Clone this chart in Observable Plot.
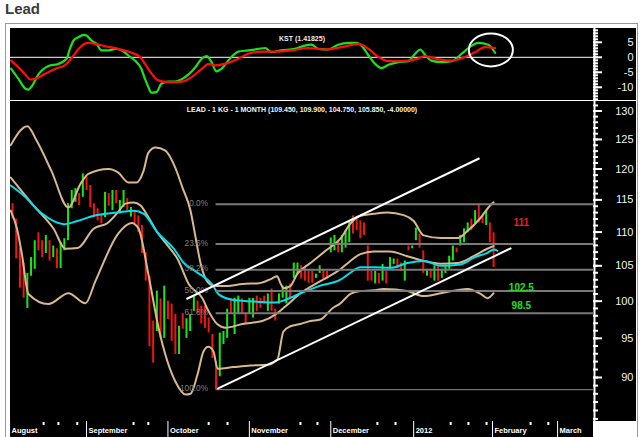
<!DOCTYPE html>
<html><head><meta charset="utf-8">
<script src="https://cdn.jsdelivr.net/npm/d3@7"></script>
<script src="https://cdn.jsdelivr.net/npm/@observablehq/plot@0.6"></script>
<style>
html,body{margin:0;padding:0;background:#fff;width:642px;height:437px;overflow:hidden;position:relative;font-family:"Liberation Sans",Arial,sans-serif}
.abs{position:absolute}
#title{left:5px;top:0px;font-family:"Liberation Sans",Arial,sans-serif;font-weight:bold;font-size:15px;line-height:17px;color:#3a3a3a}
#frame{left:5px;top:23px;width:631px;height:440px;border:1px solid #999}
#bg{left:10px;top:28px;width:626px;height:393px;background:#000}
#sep{left:10px;top:100px;width:626px;height:1px;background:#fff}
svg{display:block}
</style></head>
<body>
<div id="title" class="abs">Lead</div>
<div id="frame" class="abs"></div>
<div id="bg" class="abs"></div>
<div id="kst" class="abs" style="left:10px;top:28px"></div>
<div id="kstAxis" class="abs" style="left:593px;top:28px"></div>
<div id="main" class="abs" style="left:10px;top:100px"></div>
<div id="mainAxis" class="abs" style="left:593px;top:100px"></div>
<div id="dateAxis" class="abs" style="left:10px;top:421px"></div>
<div id="sep" class="abs"></div>
<script>
// ---------- DATA ----------
// daily bars (trading-day index 0..130)
const barHigh = [114.4,112.0,107.6,105.4,103.9,106.2,108.7,109.9,108.7,109.5,
108.7,107.9,107.5,108.4,109.0,114.4,116.5,116.8,116.0,119.2,
118.7,117.3,114.4,113.6,112.8,116.2,116.0,116.5,116.5,114.9,
116.5,115.2,113.8,113.3,112.5,111.0,106.9,103.5,97.3,101.4,
100.3,102.1,100.0,99.6,98.2,96.6,98.3,97.6,98.2,100.7,
100.0,99.3,99.3,97.7,95.5,92.0,95.7,95.9,98.9,100.3,
100.4,100.7,100.3,98.2,100.4,100.4,100.7,100.4,100.7,101.0,
101.7,98.9,101.0,102.1,102.1,102.4,105.4,105.4,105.0,104.6,
104.2,104.2,103.8,105.0,104.5,104.2,109.1,109.5,108.7,109.5,
110.2,111.7,112.5,112.0,111.7,111.4,107.9,104.2,104.2,103.9,
105.2,104.2,106.2,106.0,106.0,105.4,105.7,107.9,107.9,110.6,
109.7,107.2,104.5,104.5,105.0,105.0,104.5,105.0,106.4,107.9,
107.6,109.5,110.5,111.4,112.0,113.3,114.3,112.5,113.3,111.4,
109.9];
const barLow = [112.0,106.0,101.8,100.4,99.0,103.5,104.5,107.2,106.2,106.8,
105.7,106.2,104.6,104.6,107.2,108.7,113.6,114.6,114.1,115.4,
116.5,113.8,112.2,111.7,111.3,112.2,114.0,113.3,114.4,112.8,
113.8,113.3,112.3,111.3,109.9,106.8,102.8,93.9,91.8,95.9,
95.0,95.0,97.5,94.6,92.9,92.9,96.2,95.0,95.9,98.6,
98.3,96.9,96.3,95.7,92.4,88.5,90.1,94.2,95.0,98.3,
95.5,98.3,98.3,96.9,98.2,97.7,98.6,99.0,99.6,98.6,
98.6,97.3,99.6,100.4,99.6,100.4,103.2,103.8,103.1,102.8,
102.5,102.5,103.2,103.9,103.1,103.1,106.9,107.2,106.9,106.9,
107.6,108.4,109.7,110.2,109.0,109.5,102.8,102.8,102.4,102.4,
102.8,102.4,104.5,105.2,104.6,104.2,102.8,107.2,107.5,108.7,
107.6,103.9,103.5,103.2,102.8,102.8,103.2,103.9,104.5,105.7,
106.9,107.9,108.4,109.9,110.2,111.3,111.4,111.3,111.0,108.4,
104.75];
// 1 = up day (green), 0 = down day (red)
const barUp = [0,0,0,0,1,1,1,0,0,1, 0,1,0,1,1,1,1,1,0,1,
0,0,0,0,0,1,0,1,0,1, 1,0,1,0,0,0,0,0,0,1,
0,1,0,0,0,1,0,1,1,1, 0,0,0,0,0,0,1,1,1,0,
1,1,0,0,1,1,0,0,0,1, 0,0,1,1,1,0,1,1,0,0,
0,0,1,1,0,0,1,1,0,1, 1,1,0,0,0,0,0,0,1,0,
1,0,1,1,0,0,1,0,1,1, 0,0,1,0,1,0,1,1,1,1,
0,1,1,1,0,1,0,0,1,0, 0];

// Bollinger bands and moving average: [day, price]
const bbUpper = [[-0.5,124.0],[4.0,127.3],[6.5,124.8],[10.5,119.7],[15.1,113.8],[18.4,117.6],[20.5,119.2],[25.9,120.0],[28.6,119.4],[31.3,117.8],[33.5,117.8],[35.4,119.7],[36.7,122.7],[38.6,123.6],[41.3,123.1],[44.0,120.2],[45.9,117.0],[48.1,113.3],[49.5,109.1],[50.8,105.4],[52.2,103.1],[54.0,102.2],[55.3,102.1],[58.0,102.1],[62.1,102.4],[66.6,102.5],[70.2,103.2],[71.5,103.5],[72.4,102.5],[73.3,101.8],[75.1,102.1],[76.9,103.8],[80.5,105.4],[84.6,107.2],[88.6,109.0],[91.3,111.3],[94.0,112.5],[97.6,112.8],[101.3,113.0],[105.7,112.6],[108.4,111.7],[111.1,109.5],[115.7,109.1],[120.3,109.1],[123.0,110.2],[126.5,112.2],[129.2,114.2],[130.0,114.6]];
const bbMiddle = [[-0.5,118.6],[5.7,114.1],[11.1,110.5],[14.3,107.5],[17.6,107.6],[21.9,110.5],[25.7,111.4],[28.4,113.0],[30.5,114.4],[32.7,114.6],[34.6,114.1],[36.5,112.5],[39.2,109.9],[41.9,108.0],[44.6,106.0],[47.6,102.4],[51.3,100.4],[53.0,98.6],[55.3,96.9],[57.6,96.4],[62.1,96.9],[67.5,97.3],[71.1,98.2],[73.8,99.3],[77.8,101.1],[83.2,102.8],[88.6,104.5],[91.3,105.7],[94.0,106.7],[97.6,107.1],[102.0,107.1],[106.7,106.4],[111.1,105.7],[115.7,105.3],[120.2,105.4],[124.6,106.4],[128.3,107.5],[130.0,107.9]];
const bbLower = [[-0.5,113.3],[1.2,110.5],[2.5,106.8],[4.3,101.0],[9.7,99.6],[15.1,101.1],[19.7,99.7],[22.4,102.8],[28.6,109.8],[32.2,111.4],[34.0,110.6],[36.7,103.8],[39.5,96.3],[44.0,89.5],[46.8,87.9],[48.1,88.0],[50.0,90.4],[51.6,93.3],[52.9,93.9],[54.3,93.3],[55.4,91.1],[59.7,91.3],[64.3,91.5],[68.9,91.6],[71.6,92.3],[73.2,95.9],[75.1,96.6],[77.8,96.9],[80.5,97.3],[83.2,97.5],[86.4,99.0],[88.6,99.7],[91.3,101.0],[94.0,101.4],[97.6,101.5],[100.3,101.7],[106.7,101.4],[111.1,100.7],[115.7,101.1],[123.0,101.7],[126.5,101.0],[128.4,100.4],[130.0,101.1]];
const movingAvg = [[-0.5,117.3],[3.0,115.7],[7.6,113.0],[13.9,111.2],[17.5,111.7],[22.0,112.5],[28.3,113.0],[32.8,113.3],[35.5,112.8],[39.1,110.0],[43.6,107.5],[46.3,105.4],[49.5,104.2],[54.0,102.3],[55.8,100.9],[59.4,100.2],[66.6,99.9],[71.1,99.8],[73.8,100.2],[78.3,101.2],[82.8,102.1],[88.6,103.0],[91.3,104.0],[94.0,104.8],[97.6,104.8],[102.2,104.7],[106.7,105.4],[111.2,105.7],[115.7,105.0],[121.1,105.2],[124.7,106.2],[128.3,106.9],[130.1,107.4],[131.0,107.2]];

// KST oscillator and its signal line: [day, value]
const kstLine = [[-0.4,-3.8],[1.6,-7.2],[3.5,-10.5],[4.3,-10.8],[5.1,-9.8],[7.1,-5.5],[7.9,-4.4],[9.7,-2.9],[12.4,-2.2],[14.6,-0.5],[15.5,2.8],[16.5,5.6],[17.8,6.7],[19.2,7.5],[20.0,7.3],[21.3,5.6],[22.7,4.5],[24.0,2.3],[25.9,2.3],[27.8,2.8],[29.5,2.3],[31.3,0.6],[33.1,-1.1],[34.8,-3.8],[35.8,-7.2],[36.7,-9.9],[37.5,-11.8],[38.9,-11.6],[40.2,-8.8],[42.1,-8.1],[43.9,-8.1],[45.6,-7.4],[47.5,-5.8],[49.4,-3.3],[51.1,-0.5],[52.4,0.4],[53.8,-1.6],[55.1,-4.7],[56.5,-3.8],[58.3,-1.1],[61.0,1.9],[63.7,2.3],[66.5,2.8],[68.3,3.1],[69.9,1.7],[72.6,2.3],[76.3,2.8],[79.0,3.9],[80.8,4.2],[82.6,2.8],[85.3,2.6],[88.0,4.2],[90.8,4.8],[92.9,4.8],[94.3,3.9],[96.2,0.6],[98.0,-2.2],[99.7,-3.6],[101.6,-2.5],[104.3,-1.6],[107.0,-1.3],[108.8,1.2],[110.2,2.6],[111.5,0.8],[113.2,-1.1],[116.0,-1.6],[118.7,-1.3],[121.4,1.2],[124.1,3.9],[125.9,4.8],[128.6,4.2],[130.4,1.5]];
const kstSignal = [[-0.4,-1.1],[1.6,-3.3],[3.5,-5.8],[4.8,-7.4],[6.1,-7.2],[8.8,-5.5],[11.6,-3.8],[14.3,-2.5],[16.5,0.6],[18.3,3.4],[20.5,4.8],[22.3,4.5],[25.0,3.7],[28.6,2.8],[32.2,1.5],[34.5,0.1],[35.8,-2.2],[37.6,-5.5],[39.4,-7.7],[42.1,-8.3],[45.8,-8.1],[48.4,-6.6],[51.2,-3.8],[53.0,-2.2],[54.7,-2.7],[57.4,-2.2],[61.0,-0.5],[63.7,1.2],[67.3,1.9],[71.0,1.9],[75.5,2.3],[79.9,3.1],[84.5,2.6],[89.0,3.4],[93.5,4.5],[96.2,2.8],[98.9,0.1],[101.6,-1.3],[105.2,-1.3],[108.8,-0.7],[111.5,0.4],[115.2,-0.7],[118.7,-1.1],[122.3,0.1],[125.0,1.7],[127.7,3.4],[130.4,3.1]];
const kstLabel = "KST (1.41825)";
const kstHighlight = {day: 129.4, value: 2.3};

// Fibonacci retracement from the October low to the January high
const fibHigh = 114.3, fibLow = 88.5, fibStartDay = 55;
const fibRatios = [0, 23.6, 38.2, 50, 61.8, 100];

// Trend channel: [startDay, startPrice, endDay, endPrice]
const channelLines = [[47.0, 100.3, 126.2, 121.8], [55.3, 88.6, 134.8, 107.6]];

// Target annotations
const targetLabels = ["111", "102.5", "98.5"];
const targetPrices = [111.4, 101.8, 99.3];
const targetColors = ["#ee1c1c", "#22e022", "#22e022"];
const targetDay = 137.5;

const mainTitle = "LEAD - 1 KG - 1 MONTH (109.450, 109.900, 104.750, 105.850, -4.00000)";

// Axes
const monthNames = ["August","September","October","November","December","2012","February","March"];
const monthDays = [-0.8, 20, 42, 64, 86, 108.4, 129.7, 147.3];
const weekDays = [8.4,12.4,17.5,32.7,36.7,53.0,58.1,77.8,82.4,98.6,103.5,118.4,123.2,128.1,140.0,144.8];
const priceLabels = [90, 95, 100, 105, 110, 115, 120, 125, 130];
const priceMinor = d3.range(85, 132);
const kstLabels = [-10, -5, 0, 5];
const kstMinor = d3.range(-14, 10);

// ---------- CHART ----------
const X_DOMAIN = [-0.55, 157.0];
const PLOT_W = 583;
const GREEN = "#19e619", RED = "#f01414", TAN = "#d9b88e", CYAN = "#00e1ef";
const baseStyle = {background: "transparent", color: "white", fontFamily: "'Liberation Sans', Arial, sans-serif", overflow: "hidden"};

const bars = barHigh.map((h, i) => ({day: i, high: h, low: barLow[i], up: barUp[i] === 1}));
const fibs = fibRatios.map(r => ({ratio: r, price: fibHigh - r / 100 * (fibHigh - fibLow)}));
const channel = channelLines.map(([d1, p1, d2, p2]) => ({d1, p1, d2, p2}));
const targets = targetLabels.map((t, i) => ({label: t, price: targetPrices[i], color: targetColors[i]}));
const months = monthNames.map((n, i) => ({name: n, day: monthDays[i]}));

const Y_MAIN = {type: "log", domain: [84.7, 131.9], axis: null};
const Y_KST = {domain: [-14.4, 9.6], axis: null};

// KST panel
const kst = Plot.plot({
  width: PLOT_W, height: 72, margin: 0,
  x: {domain: X_DOMAIN, axis: null}, y: Y_KST,
  style: baseStyle,
  marks: [
    Plot.ruleY([0], {stroke: "white", strokeWidth: 1}),
    Plot.line(kstLine, {x: d => d[0], y: d => d[1], stroke: "#1de01d", strokeWidth: 2.2, curve: "monotone-x"}),
    Plot.line(kstSignal, {x: d => d[0], y: d => d[1], stroke: "#ff0d0d", strokeWidth: 2.2, curve: "monotone-x"}),
    Plot.text([kstLabel], {text: d => d, frameAnchor: "top", dy: 8, fill: "#eee", fontSize: 7, fontWeight: "bold"})
  ]
});
document.getElementById("kst").appendChild(kst);
{
  const sx = kst.scale("x"), sy = kst.scale("y");
  const fx = sx.apply ? v => sx.apply(v) : d3.scaleLinear().domain(sx.domain).range(sx.range);
  const fy = sy.apply ? v => sy.apply(v) : d3.scaleLinear().domain(sy.domain).range(sy.range);
  d3.select(kst).append("ellipse")
    .attr("cx", fx(kstHighlight.day)).attr("cy", fy(kstHighlight.value))
    .attr("rx", 22).attr("ry", 16.5)
    .attr("fill", "none").attr("stroke", "white").attr("stroke-width", 2);
}

function rightAxis(height, yOpts, major, minor, fmt) {
  return Plot.plot({
    width: 43, height, margin: 0,
    x: {domain: [0, 1], axis: null},
    y: {...yOpts, axis: null},
    style: baseStyle,
    marks: [
      Plot.ruleX([0], {stroke: "white", strokeWidth: 2, dx: 1}),
      Plot.tickY(minor, {y: d => d, stroke: "white", strokeWidth: 2, insetRight: 38}),
      Plot.tickY(major, {y: d => d, stroke: "white", strokeWidth: 2, insetRight: 34}),
      Plot.text(major, {y: d => d, text: fmt, frameAnchor: "right", textAnchor: "end", dx: -3, fill: "#f2f2f2", fontSize: 11})
    ]
  });
}
document.getElementById("kstAxis").appendChild(rightAxis(72, Y_KST, kstLabels, kstMinor, d => String(d)));

// Price panel
const main = Plot.plot({
  width: PLOT_W, height: 321, margin: 0,
  x: {domain: X_DOMAIN, axis: null}, y: Y_MAIN,
  style: baseStyle,
  marks: [
    Plot.ruleX(bars, {x: "day", y1: "low", y2: "high", stroke: d => d.up ? GREEN : RED, strokeWidth: 2}),
    Plot.line(bbUpper, {x: d => d[0], y: d => d[1], stroke: TAN, strokeWidth: 2, curve: "monotone-x"}),
    Plot.line(bbMiddle, {x: d => d[0], y: d => d[1], stroke: TAN, strokeWidth: 2, curve: "monotone-x"}),
    Plot.line(bbLower, {x: d => d[0], y: d => d[1], stroke: TAN, strokeWidth: 2, curve: "monotone-x"}),
    Plot.line(movingAvg, {x: d => d[0], y: d => d[1], stroke: CYAN, strokeWidth: 2, curve: "monotone-x"}),
    Plot.ruleY(fibs.filter(f => f.ratio !== 100), {y: "price", x1: fibStartDay, x2: X_DOMAIN[1], stroke: "#7a7a7a", strokeWidth: 2}),
    Plot.ruleY(fibs.filter(f => f.ratio === 100), {y: "price", x1: fibStartDay, x2: X_DOMAIN[1], stroke: "#8a8a8a", strokeWidth: 1}),
    Plot.text(fibs, {x: fibStartDay, y: "price", text: d => d.ratio.toFixed(1) + "%", textAnchor: "end", dx: -8, dy: -1, fill: "#808080", fontSize: 8.3}),
    Plot.link(channel, {x1: "d1", y1: "p1", x2: "d2", y2: "p2", stroke: "white", strokeWidth: 2}),
    Plot.text(targets, {x: targetDay, y: "price", text: "label", fill: "color", fontSize: 10, fontWeight: "bold"}),
    Plot.text([mainTitle], {text: d => d, frameAnchor: "top", dy: 7, fill: "#f2f2f2", fontSize: 7, fontWeight: "bold"})
  ]
});
document.getElementById("main").appendChild(main);
document.getElementById("mainAxis").appendChild(rightAxis(321, Y_MAIN, priceLabels, priceMinor, d => String(d)));

// Date axis
const dateAxis = Plot.plot({
  width: PLOT_W, height: 16, margin: 0,
  x: {domain: X_DOMAIN, axis: null},
  style: {...baseStyle, background: "black"},
  marks: [
    Plot.ruleX(months, {x: "day", stroke: "white", strokeWidth: 1}),
    Plot.tickX(weekDays, {x: d => d, stroke: "white", strokeWidth: 2, insetTop: 1, insetBottom: 12}),
    Plot.text(months, {x: "day", text: "name", textAnchor: "start", dx: 2, dy: 1, frameAnchor: "middle", fill: "white", fontSize: 7.5, fontWeight: "bold"})
  ]
});
document.getElementById("dateAxis").appendChild(dateAxis);
</script>
</body></html>
